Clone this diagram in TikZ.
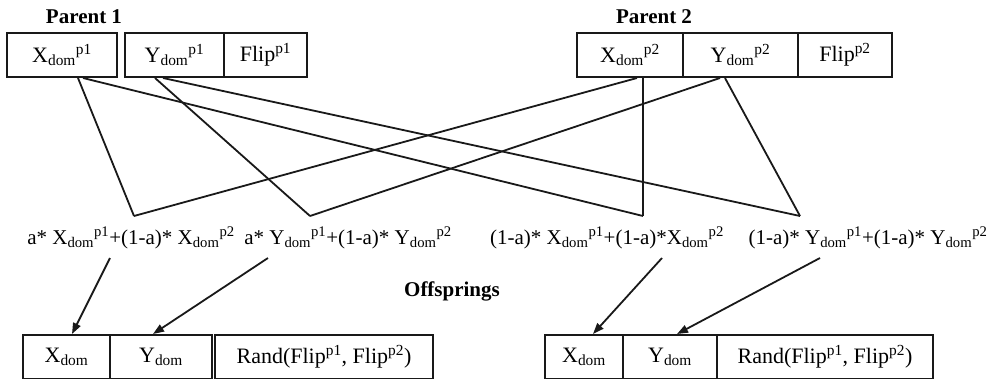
\documentclass[tikz,border=0pt]{standalone}
\usepackage{fontspec}
\setmainfont{Liberation Serif}
\usetikzlibrary{arrows.meta}
\tikzset{
  cell/.style={draw=black!90, line width=2pt, inner sep=0pt, minimum height=44pt, font=\fontsize{22}{25}\selectfont},
  formula/.style={inner sep=0pt, font=\fontsize{21}{24}\selectfont},
  title/.style={inner sep=0pt, font=\fontsize{21}{24}\selectfont\bfseries},
  link/.style={draw=black!90, line width=1.8pt},
  arr/.style={link, -{Triangle[length=11pt,width=8pt]}}
}
\newcommand{\XD}{X\textsubscript{dom}}
\newcommand{\YD}{Y\textsubscript{dom}}
\begin{document}
\begin{tikzpicture}[x=1pt,y=-1pt]
\useasboundingbox (0,0) rectangle (1004,378);
\clip (0,0) rectangle (1004,378);
% titles
\node[title] (t1) at (84,17) {Parent 1};
\node[title] (t2) at (654,17) {Parent 2};
\node[title] (t3) at (452,291) {Offsprings};
% parent 1
\node[cell, minimum width=110pt] (p1x) at (62,55) {\XD\textsuperscript{p1}};
\node[cell, minimum width=99pt] (p1y) at (174.5,55) {\YD\textsuperscript{p1}};
\node[cell, minimum width=83pt] (p1f) at (265.5,55) {Flip\textsuperscript{p1}};
% parent 2
\node[cell, minimum width=106pt] (p2x) at (630,55) {\XD\textsuperscript{p2}};
\node[cell, minimum width=115pt] (p2y) at (740.5,55) {\YD\textsuperscript{p2}};
\node[cell, minimum width=94pt] (p2f) at (845,55) {Flip\textsuperscript{p2}};
% formulas
\node[formula] (f1) at (131,238) {a* \XD\textsuperscript{p1}+(1-a)* \XD\textsuperscript{p2}};
\node[formula] (f2) at (348,238) {a* \YD\textsuperscript{p1}+(1-a)* \YD\textsuperscript{p2}};
\node[formula] (f3) at (607,238) {(1-a)* \XD\textsuperscript{p1}+(1-a)*\XD\textsuperscript{p2}};
\node[formula] (f4) at (868,238) {(1-a)* \YD\textsuperscript{p1}+(1-a)* \YD\textsuperscript{p2}};
% apexes
\coordinate (a1) at (134,216);
\coordinate (a2) at (310,216);
\coordinate (a3) at (643,216);
\coordinate (a4) at (800,216);
% arrow starts
\coordinate (s1) at (110,258);
\coordinate (s2) at (268,258);
\coordinate (s3) at (662,258);
\coordinate (s4) at (820,258);
% offspring 1
\node[cell, minimum width=87pt] (o1x) at (66.5,357) {\XD};
\node[cell, minimum width=102pt] (o1y) at (161,357) {\YD};
\node[cell, minimum width=218pt] (o1r) at (324,357) {Rand(Flip\textsuperscript{p1}, Flip\textsuperscript{p2})};
% offspring 2
\node[cell, minimum width=78pt] (o2x) at (584,357) {\XD};
\node[cell, minimum width=94pt] (o2y) at (670,357) {\YD};
\node[cell, minimum width=216pt] (o2r) at (825,357) {Rand(Flip\textsuperscript{p1}, Flip\textsuperscript{p2})};
% crossing links
\draw[link] ([xshift=16pt]p1x.south) -- (a1);
\draw[link] ([xshift=21pt]p1x.south) -- (a3);
\draw[link] ([xshift=-19.5pt]p1y.south) -- (a2);
\draw[link] ([xshift=-11.5pt]p1y.south) -- (a4);
\draw[link] ([xshift=7pt]p2x.south) -- (a1);
\draw[link] ([xshift=13pt]p2x.south) -- (a3);
\draw[link] ([xshift=-20.5pt]p2y.south) -- (a2);
\draw[link] ([xshift=-15.5pt]p2y.south) -- (a4);
% arrows
\draw[arr] (s1) -- ([xshift=5.5pt]o1x.north);
\draw[arr] (s2) -- ([xshift=-8pt]o1y.north);
\draw[arr] (s3) -- ([xshift=9pt]o2x.north);
\draw[arr] (s4) -- ([xshift=7pt]o2y.north);
\end{tikzpicture}
\end{document}
